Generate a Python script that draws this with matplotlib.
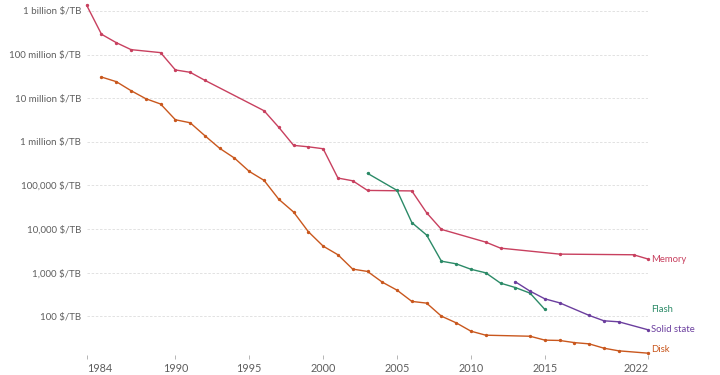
import matplotlib.pyplot as plt
from matplotlib.ticker import FixedLocator, NullLocator

plt.rcParams["font.family"] = ["Lato", "DejaVu Sans"]

# historical price per terabyte
memory_years = [1984, 1985, 1986, 1987, 1989, 1990, 1991, 1992, 1996, 1997, 1998,
                1999, 2000, 2001, 2002, 2003, 2006, 2007, 2008, 2011, 2012, 2016,
                2021, 2022]
memory_price = [1.35e9, 2.93e8, 1.88e8, 1.30e8, 1.11e8, 4.45e7, 3.93e7, 2.57e7,
                5.17e6, 2.15e6, 8.3e5, 7.7e5, 6.95e5, 1.48e5, 1.28e5, 7.7e4,
                7.5e4, 2.37e4, 9.85e3, 5.03e3, 3.66e3, 2.67e3, 2.58e3, 2.05e3]

disk_years = [1985, 1986, 1987, 1988, 1989, 1990, 1991, 1992, 1993, 1994, 1995,
              1996, 1997, 1998, 1999, 2000, 2001, 2002, 2003, 2004, 2005, 2006,
              2007, 2008, 2009, 2010, 2011, 2014, 2015, 2016, 2017, 2018, 2019,
              2020, 2022]
disk_price = [3.06e7, 2.4e7, 1.49e7, 9.75e6, 7.37e6, 3.21e6, 2.74e6, 1.38e6,
              7.1e5, 4.24e5, 2.1e5, 1.31e5, 4.82e4, 2.46e4, 8.7e3, 4.07e3, 2.58e3,
              1.21e3, 1.07e3, 608, 398, 220, 201, 101, 71, 45.7, 37, 35, 28.5, 28,
              25, 23.4, 18.6, 16.2, 14.3]

flash_years = [2003, 2005, 2006, 2007, 2008, 2009, 2010, 2011, 2012, 2013, 2014, 2015]
flash_price = [1.9e5, 7.7e4, 1.41e4, 7.3e3, 1.84e3, 1.6e3, 1.2e3, 995, 577, 458,
               340, 144]

ssd_years = [2013, 2014, 2015, 2016, 2018, 2019, 2020, 2022]
ssd_price = [620, 378, 252, 204, 105, 79, 75, 49]

y_ticks = [100, 1e3, 1e4, 1e5, 1e6, 1e7, 1e8, 1e9]
y_labels = ["100 $/TB", "1,000 $/TB", "10,000 $/TB", "100,000 $/TB",
            "1 million $/TB", "10 million $/TB", "100 million $/TB", "1 billion $/TB"]
x_ticks = [1984, 1990, 1995, 2000, 2005, 2010, 2015, 2022]

series = [
    ("Memory", memory_years, memory_price, "#c8405f", 0),
    ("Flash", flash_years, flash_price, "#2b8a67", 0),
    ("Solid state", ssd_years, ssd_price, "#6b3e9e", 0),
    ("Disk", disk_years, disk_price, "#c9571d", 3),
]

fig = plt.figure(figsize=(7.2, 3.75), dpi=100)
ax = fig.add_axes([86.7 / 720, 1 - 355 / 375, (648.3 - 86.7) / 720, (355 - 3.3) / 375])

for name, xs, ys, color, dy in series:
    ax.plot(xs, ys, color=color, linewidth=1.0, marker="o", markersize=1.4,
            clip_on=False, zorder=3)
    ax.annotate(name, xy=(2022, ys[-1]), xytext=(2, dy), textcoords="offset points",
                color=color, fontsize=6.8, va="center", ha="left",
                annotation_clip=False)

ax.set_yscale("log")
ax.set_ylim(13, 1.5e9)
ax.set_xlim(1984, 2022)
ax.yaxis.set_major_locator(FixedLocator(y_ticks))
ax.yaxis.set_minor_locator(NullLocator())
ax.set_yticklabels(y_labels)
ax.set_xticks(x_ticks)
ax.set_xticklabels([str(x) for x in x_ticks])
xlabels = ax.get_xticklabels()
xlabels[0].set_horizontalalignment("left")
xlabels[-1].set_horizontalalignment("right")

ax.grid(axis="y", linestyle=(0, (3, 2)), linewidth=0.6, color="#dddddd")
ax.set_axisbelow(True)
for s in ax.spines.values():
    s.set_visible(False)
ax.tick_params(axis="y", length=0, pad=4, labelsize=7.0, labelcolor="#5e5e5e")
ax.tick_params(axis="x", length=3, width=0.6, color="#aaaaaa", pad=3,
               labelsize=7.8, labelcolor="#5e5e5e")

fig.savefig("out.png", dpi=100)
